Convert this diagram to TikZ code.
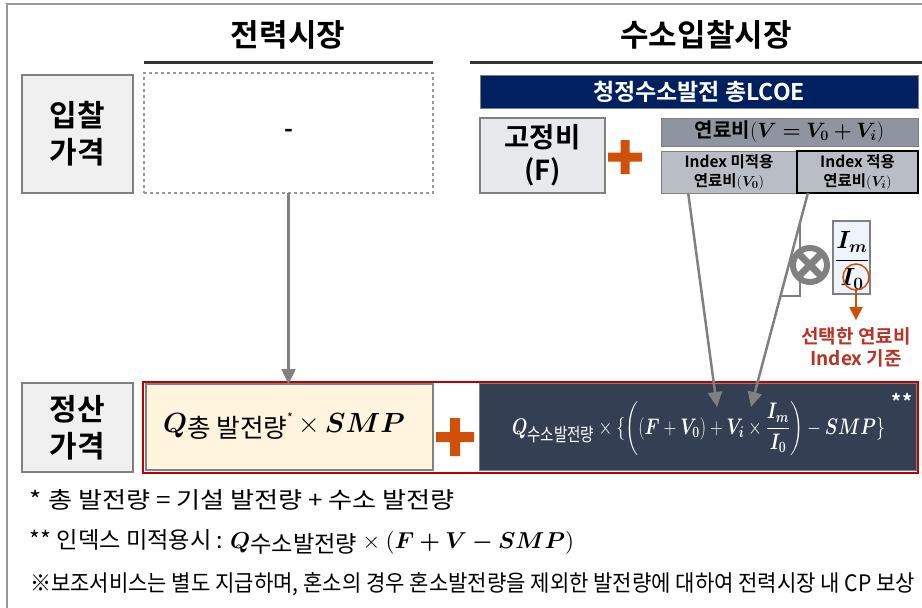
\documentclass[tikz,border=0pt]{standalone}
\usepackage{amsmath}
\usepackage{bm}
\usepackage{fontspec}
\usepackage{tikz}
\usetikzlibrary{arrows.meta,calc}
\newfontfamily\kr[BoldFont={* Bold}]{Noto Sans CJK KR}
\definecolor{lcoenavy}{RGB}{0,32,96}
\definecolor{setnavy}{RGB}{53,63,84}
\definecolor{fuelgray}{RGB}{143,149,160}
\definecolor{idxgray}{RGB}{185,190,198}
\definecolor{fixgray}{RGB}{232,233,237}
\definecolor{rowgray}{RGB}{240,240,240}
\definecolor{cream}{RGB}{255,245,222}
\definecolor{ratioblue}{RGB}{238,244,251}
\definecolor{plusorange}{RGB}{208,80,10}
\definecolor{framered}{RGB}{192,0,0}
\definecolor{notered}{RGB}{185,50,35}
\definecolor{arrowgray}{RGB}{128,128,128}

\begin{document}
\begin{tikzpicture}
[x=1pt,y=-1pt,every node/.style={inner sep=0pt,outer sep=0pt,font=\kr},
 title/.style={font=\kr\bfseries\fontsize{31}{31}\selectfont},
 titleline/.style={line width=3pt,black!80},
 rowhead/.style={draw=gray,line width=1.2pt,fill=rowgray,minimum width=111,align=center,
   font=\kr\bfseries\fontsize{30}{37}\selectfont},
 idxbox/.style={draw=gray,fill=idxgray,minimum height=42,align=center,
   font=\kr\bfseries\fontsize{15.5}{19}\selectfont},
 grayarrow/.style={arrowgray,line width=2.5pt,-{Triangle[width=14pt,length=15pt]}},
 orplus/.style={fill=plusorange}]
\useasboundingbox (0,0) rectangle (922,608);
\draw[gray!80,line width=2pt] (7,608) -- (7,4) -- (922,4);

% headings
\node[title] (elec) at (288,35) {전력시장};
\node[title] (htwo) at (706,35) {수소입찰시장};
\draw[titleline] (144,62) -- (433,62);
\draw[titleline] (470,62) -- (922,62);

% bid row
\node[rowhead,minimum height=118] (bid) at (77.5,134) {입찰\\가격};
\node[draw=gray!80,dashed,line width=1.2pt,minimum width=289,minimum height=120,
  font=\kr\bfseries\fontsize{24}{24}\selectfont] (elecbid) at (288.5,133) {-};
\node[fill=lcoenavy,draw=gray,minimum width=438,minimum height=33,text=white,
  font=\kr\bfseries\fontsize{23}{23}\selectfont] (lcoe) at (699,91.5) {청정수소발전 총LCOE};
\node[draw=gray,line width=1.2pt,fill=fixgray,minimum width=125,minimum height=75,align=center,
  font=\kr\bfseries\fontsize{27.5}{33}\selectfont] (fixed) at (542.5,155.5) {고정비\\(F)};
\node[draw=gray,fill=fuelgray,minimum width=257,minimum height=28,
  font=\kr\bfseries\fontsize{20}{20}\selectfont] (fuel) at (789.5,132) {연료비$(\bm{V=V_0+V_i})$};
\node[idxbox,minimum width=136] (vzero) at (729,172) {Index 미적용\\연료비$(\bm{V_0})$};
\node[idxbox,minimum width=121,draw=black,line width=2pt] (vidx) at (857.5,172) {Index 적용\\연료비$(\bm{V_i})$};

% index ratio
\node[draw=gray,line width=1.2pt,fill=ratioblue,minimum width=37,minimum height=73] (ratio) at (851.5,257.5) {};
\node[font=\fontsize{24}{28}\selectfont] (ratiotxt) at (852,260.5) {$\displaystyle\bm{\frac{I_m}{I_0}}$};
\node[circle,draw=plusorange,line width=1.5pt,minimum size=26] (izero) at (856,277) {};
\node[text=notered,align=center,font=\kr\bfseries\fontsize{19}{22}\selectfont] (note) at (856,347)
  {선택한 연료비\\Index 기준};
\draw[plusorange,line width=2pt,-{Triangle[width=13pt,length=13pt]},shorten >=7pt] (izero.south) -- (note.north);

% settle row
\node[rowhead,minimum height=89] (settle) at (77.5,427.5) {정산\\가격};
\node[draw=framered,line width=2pt,minimum width=775,minimum height=91] (settlebox) at (530.5,427) {};
\node[draw=gray,line width=1.2pt,fill=cream,minimum width=287,minimum height=86] (smpbox) at (289.5,427) {};
\node[draw=gray,line width=1.2pt,fill=setnavy,minimum width=437,minimum height=87] (hbox) at (698,427) {};
\node (smpform) at (284,426) {\resizebox{242pt}{!}{\fontsize{28}{28}\selectfont
  $\bm{Q}$\raisebox{-5pt}{\fontsize{23}{23}\selectfont\kr 총 발전량}\raisebox{9pt}{\fontsize{11}{11}\selectfont\kr *}\,$\times$\,$\bm{SMP}$}};
\node[text=white] (hform) at (698.5,428.5) {\resizebox*{373pt}{54pt}{\fontsize{20}{20}\selectfont
  $\bm{Q}_{\text{\kr\mdseries\fontsize{17}{17}\selectfont 수소발전량}}\times\{\left((\bm{F}+\bm{V_0})+\bm{V_i}\times\dfrac{\bm{I_m}}{\bm{I_0}}\right)-\bm{SMP}\}$}};
\node[text=white,font=\kr\bfseries\fontsize{20}{20}\selectfont] (star) at (902,401) {**};

% pluses
\foreach \px/\py/\s/\t in {625/157/17/4.5,455/437/19/5}
  \fill[orplus] ({\px-\s},{\py-\t}) rectangle ({\px+\s},{\py+\t})
                ({\px-\t},{\py-\s}) rectangle ({\px+\t},{\py+\s});

% arrows
\coordinate (vzstart) at ($(vzero.south west)!0.2!(vzero.south east)$);
\coordinate (vistart) at ($(vidx.south west)!0.09!(vidx.south east)$);
\coordinate (tipfv) at (717,407);
\coordinate (tipvi) at (751,407);
\draw[grayarrow] (elecbid.south) -- (elecbid.south |- smpbox.north);
\draw[grayarrow] (vzstart) -- (tipfv);
\draw[grayarrow] (vistart) -- (tipvi);
\coordinate (ba) at ($(vistart)!0.13!(tipvi)$);
\coordinate (bb) at ($(vistart)!0.48!(tipvi)$);
\draw[arrowgray,line width=2pt] (ba) -- (ba |- bb) -- (bb);
\node[circle,draw=arrowgray,line width=6pt,fill=white,minimum size=34] (times) at (810,265) {};
\draw[arrowgray,line width=7pt] (times.north west) -- (times.south east)
  (times.north east) -- (times.south west);

% notes
\node[anchor=west] (noteone) at (30,500) {\resizebox{425pt}{19pt}{* 총 발전량 = 기설 발전량 + 수소 발전량}};
\node[anchor=west] (notetwo) at (30,542) {\resizebox{544pt}{19pt}{** 인덱스 미적용시 : $\bm{Q}$\raisebox{-2pt}{수소발전량} $\times$ $(\bm{F+V-SMP})$}};
\node[anchor=west] (notethree) at (30,584) {\resizebox{885pt}{19pt}{※보조서비스는 별도 지급하며, 혼소의 경우 혼소발전량을 제외한 발전량에 대하여 전력시장 내 CP 보상}};
\end{tikzpicture}
\end{document}
